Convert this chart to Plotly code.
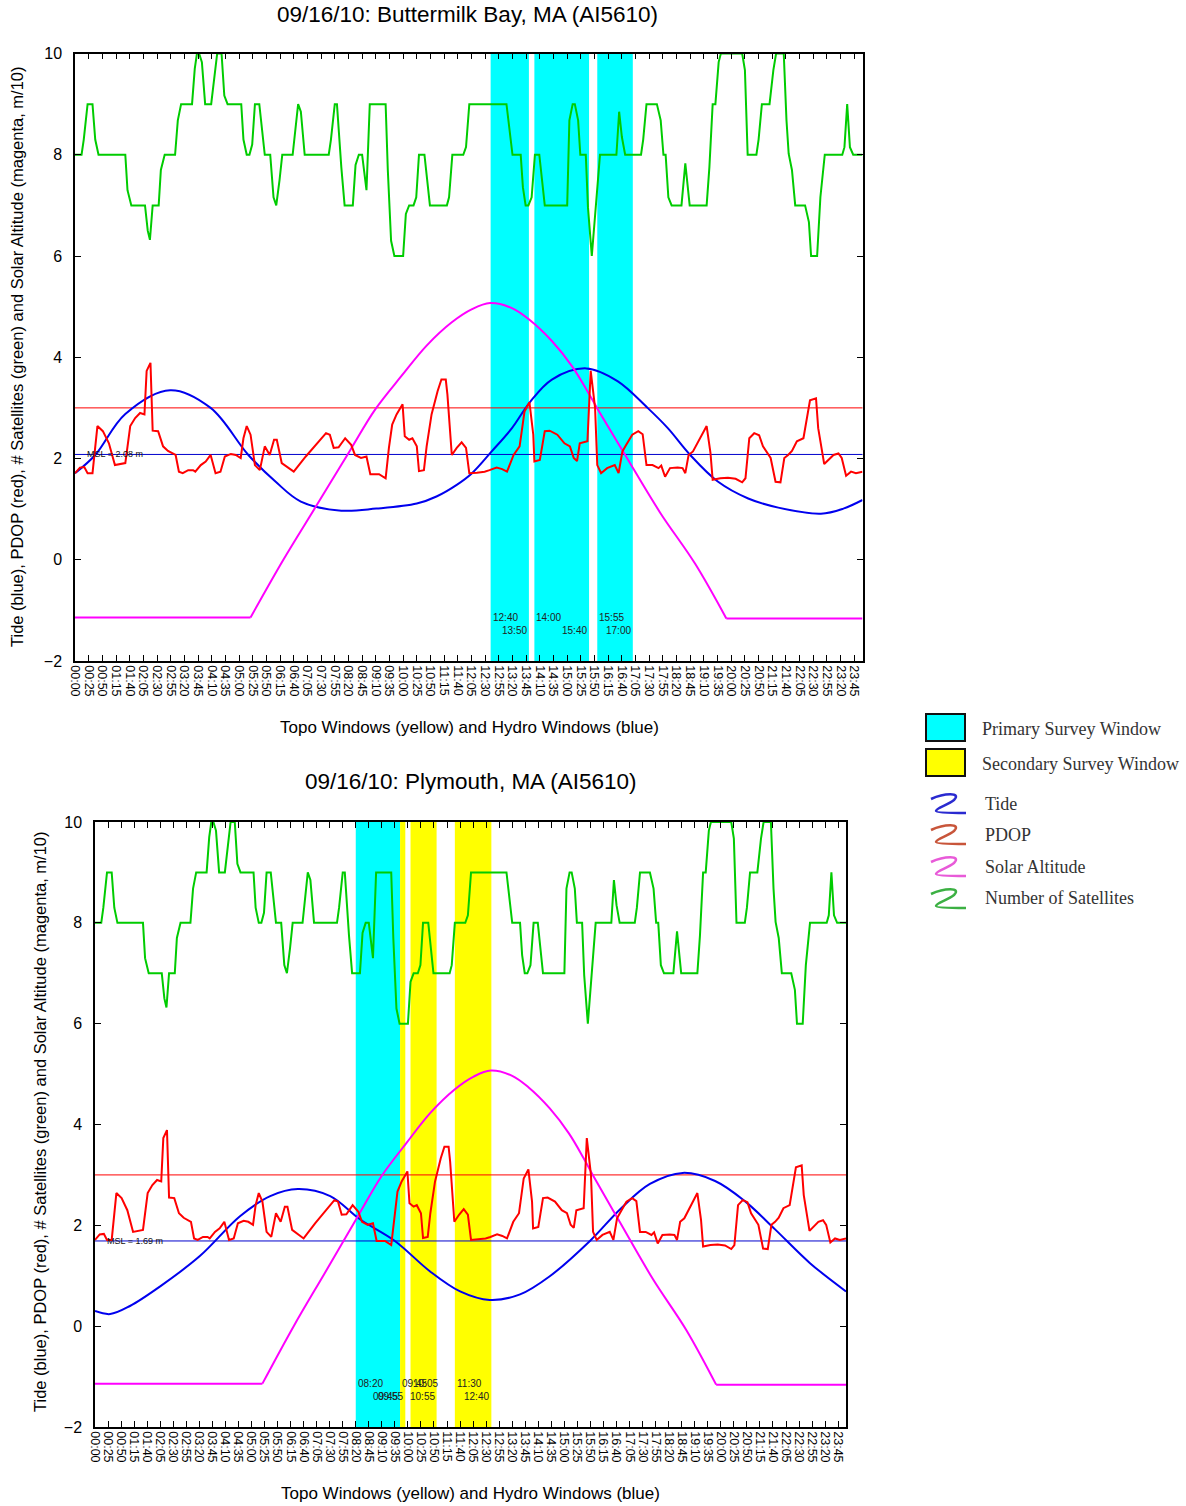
import plotly.graph_objects as go

W, H = 1186, 1506

# ---------------- data ----------------
TICK_LABELS = ["00:00", "00:25", "00:50", "01:15", "01:40", "02:05", "02:30", "02:55", "03:20", "03:45",
               "04:10", "04:35", "05:00", "05:25", "05:50", "06:15", "06:40", "07:05", "07:30", "07:55",
               "08:20", "08:45", "09:10", "09:35", "10:00", "10:25", "10:50", "11:15", "11:40", "12:05",
               "12:30", "12:55", "13:20", "13:45", "14:10", "14:35", "15:00", "15:25", "15:50", "16:15",
               "16:40", "17:05", "17:30", "17:55", "18:20", "18:45", "19:10", "19:35", "20:00", "20:25",
               "20:50", "21:15", "21:40", "22:05", "22:30", "22:55", "23:20", "23:45"]
Y_TICKS = [-2, 0, 2, 4, 6, 8, 10]

# time in minutes after midnight
sat_t = [0, 12, 16, 23, 32, 37, 43, 92, 96, 103, 128, 133, 137, 142, 153, 157, 164, 183, 188, 194,
         214, 219, 223, 227, 232, 238, 249, 255, 260, 268, 273, 279, 304, 308, 314, 319, 324, 329, 337, 347,
         357, 363, 368, 374, 379, 398, 408, 413, 420, 464, 468, 475, 479, 487, 493, 508, 513, 519, 525, 533,
         539, 568, 572, 578, 584, 600, 605, 611, 619, 624, 629, 639, 649, 680, 684, 690, 710, 715, 721, 789,
         800, 815, 819, 824, 829, 835, 841, 849, 859, 900, 904, 910, 914, 920, 924, 934, 938, 945, 951, 960,
         990, 995, 1000, 1006, 1035, 1039, 1045, 1064, 1071, 1076, 1080, 1085, 1091, 1109, 1116, 1124, 1155,
         1160, 1166, 1171, 1177, 1181, 1220, 1225, 1230, 1246, 1250, 1256, 1270, 1277, 1282, 1296, 1301, 1305,
         1311, 1317, 1335, 1342, 1346, 1357, 1363, 1371, 1403, 1407, 1412, 1417, 1423, 1440]
sat_v = [8, 8, 8.3, 9, 9, 8.3, 8, 8, 7.3, 7, 7, 6.5, 6.32, 7, 7, 7.7, 8, 8, 8.68, 9,
         9, 9.7, 10, 10, 9.83, 9, 9, 9.54, 10, 10, 9.17, 9, 9, 8.3, 8, 8, 8.2, 9, 9, 8,
         8, 7.16, 7, 7.5, 8, 8, 9, 8.85, 8, 8, 8.3, 9, 9, 7.75, 7, 7, 7.8, 8, 8, 7.3,
         9, 9, 7.7, 6.3, 6, 6, 6.83, 7, 7, 7.16, 8, 8, 7, 7, 7.16, 8, 8, 8.15, 9, 9,
         8, 8, 7.36, 7, 7, 7.16, 8, 8, 7, 7, 8.68, 9, 9, 8.68, 8, 8, 6.96, 6, 6.77, 8,
         8, 8.85, 8.35, 8, 8, 8.3, 9, 9, 8.68, 8, 8, 7.16, 7, 7, 7.83, 7, 7,
         7.75, 9, 9, 9.83, 10, 10, 9.67, 8, 8, 8.3, 9, 9, 9.67, 10, 10, 8.68, 8.02,
         7.7, 7, 7, 6.67, 6, 6, 7.16, 8, 8, 8.15, 9, 8.15, 8, 8]

pdop_t = [0, 9, 17, 23, 32, 41, 51, 62, 73, 87, 92, 101, 110, 119, 127, 131, 138, 142, 152, 161,
          170, 184, 190, 197, 207, 216, 220, 230, 239, 248, 257, 266, 274, 285, 294, 303, 308, 314, 321, 329,
          338, 347, 356, 364, 369, 378, 400, 422, 441, 459, 466, 473, 482, 494, 505, 512, 523, 533, 540, 556,
          568, 574, 580, 588, 599, 603, 611, 617, 625, 629, 638, 643, 652, 663, 670, 678, 681, 689, 698, 707,
          715, 721, 735, 749, 758, 771, 781, 790, 802, 813, 822, 831, 838, 840, 850, 859, 868, 882, 895, 905,
          912, 918, 923, 932, 937, 943, 951, 955, 962, 973, 987, 994, 1001, 1008, 1019, 1030, 1038, 1045, 1056,
          1067, 1072, 1079, 1088, 1102, 1111, 1116, 1122, 1130, 1143, 1155, 1162, 1166, 1180, 1194, 1208, 1220,
          1226, 1233, 1242, 1251, 1258, 1272, 1281, 1290, 1297, 1304, 1311, 1320, 1332, 1344, 1355, 1359, 1370,
          1378, 1387, 1396, 1402, 1410, 1419, 1428, 1440]
pdop_v = [1.71, 1.82, 1.83, 1.71, 1.71, 2.64, 2.54, 2.30, 1.87, 1.89, 1.91, 2.64, 2.80, 2.90, 2.87, 3.73, 3.89, 2.55, 2.54, 2.24,
          2.15, 2.07, 1.74, 1.71, 1.77, 1.77, 1.74, 1.87, 1.94, 2.07, 1.71, 1.74, 2.04, 2.09, 2.07, 2.01, 2.40, 2.64, 2.47, 1.87,
          1.77, 2.24, 2.07, 2.37, 2.37, 1.91, 1.74, 2.04, 2.27, 2.50, 2.47, 2.21, 2.22, 2.40, 2.27, 2.07, 2.01, 2.04, 1.69, 1.69,
          1.61, 2.21, 2.67, 2.87, 3.07, 2.44, 2.37, 2.40, 2.24, 1.75, 1.77, 2.24, 2.87, 3.33, 3.56, 3.56, 3.26, 2.07, 2.21, 2.32,
          2.21, 1.71, 1.72, 1.74, 1.77, 1.82, 1.79, 1.74, 2.07, 2.24, 2.93, 3.11, 2.47, 1.94, 1.97, 2.54, 2.55, 2.47, 2.30, 2.24,
          2.01, 1.95, 2.30, 2.32, 2.34, 3.73, 3.00, 1.87, 1.71, 1.81, 1.87, 1.71, 2.14, 2.27, 2.47, 2.54, 2.48, 1.87, 1.87,
          1.81, 1.86, 1.64, 1.81, 1.82, 1.81, 1.71, 2.07, 2.14, 2.40, 2.64, 2.11, 1.58, 1.61, 1.62, 1.60, 1.53,
          1.61, 2.40, 2.50, 2.46, 2.24, 2.01, 1.54, 1.53, 2.01, 2.07, 2.15, 2.34, 2.40, 3.15, 3.19, 2.60, 1.89,
          1.97, 2.07, 2.10, 2.01, 1.66, 1.74, 1.71, 1.74]

# solar altitude: flat night parts, then the daytime arc
solar_night1_t = [0, 321]
solar_night1_v = [-1.14, -1.14]
solar_day_t = [321, 381, 441, 503, 549, 597, 643, 689, 726, 759, 799, 831, 872, 909, 937, 955, 1006, 1070, 1134, 1191]
solar_day_v = [-1.14, 0.0, 1.06, 2.16, 2.97, 3.63, 4.23, 4.69, 4.95, 5.07, 4.97, 4.74, 4.32, 3.82, 3.33, 2.99, 2.07, 0.93, -0.08, -1.16]
solar_night2_t = [1191, 1440]
solar_night2_v = [-1.16, -1.16]

tide1_t = [0, 37, 92, 174, 248, 317, 367, 413, 487, 551, 625, 661, 698, 726, 762, 799, 831, 872, 935, 992,
           1047, 1084, 1125, 1176, 1231, 1286, 1364, 1405, 1440]
tide1_v = [1.71, 2.07, 2.88, 3.35, 3.0, 2.07, 1.54, 1.15, 0.97, 1.01, 1.11, 1.25, 1.48, 1.71, 2.14, 2.6, 3.1, 3.56, 3.78, 3.53,
           3.0, 2.6, 2.07, 1.54, 1.21, 1.03, 0.91, 1.01, 1.18]

tide2_t = [0, 29, 67, 125, 201, 278, 336, 389, 451, 508, 575, 642, 700, 757, 815, 872, 949, 1007, 1064, 1127,
           1189, 1246, 1304, 1371, 1440]
tide2_v = [0.30, 0.24, 0.40, 0.79, 1.39, 2.18, 2.58, 2.72, 2.58, 2.12, 1.69, 1.09, 0.69, 0.52, 0.63, 0.99, 1.69, 2.32, 2.82, 3.04,
           2.88, 2.48, 1.92, 1.25, 0.69]

PDOP_LIMIT = 3.0
MSL_1 = 2.08
MSL_2 = 1.69

win1_primary_start = ["12:40", "14:00", "15:55"]
win1_primary_end = ["13:50", "15:40", "17:00"]
win2_primary_start = ["08:20"]
win2_primary_end = ["09:45"]
win2_secondary_start = ["09:45", "10:05", "11:30"]
win2_secondary_end = ["09:55", "10:55", "12:40"]

TITLE_1 = "09/16/10: Buttermilk Bay, MA (AI5610)"
TITLE_2 = "09/16/10: Plymouth, MA (AI5610)"
Y_TITLE = "Tide (blue), PDOP (red), # Satellites (green) and Solar Altitude (magenta, m/10)"
X_TITLE = "Topo Windows (yellow) and Hydro Windows (blue)"

LEGEND_ITEMS = ["Tide", "PDOP", "Solar Altitude", "Number of Satellites"]
LEGEND_BOXES = ["Primary Survey Window", "Secondary Survey Window"]

# ---------------- helpers ----------------
def hm(s):
    h, m = s.split(":")
    return int(h) * 60 + int(m)

def px(x):
    return x / W

def py(y):
    return 1 - y / H

TICK_VALS = [hm(s) for s in TICK_LABELS]
FONT = "Liberation Sans, Arial, sans-serif"
SERIF = "Liberation Serif, Times New Roman, serif"

C_GREEN = "#00cc00"
C_RED = "#ff0000"
C_MAG = "#ff00ff"
C_BLUE = "#0000ee"
C_CYAN = "#00ffff"
C_YEL = "#ffff00"

fig = go.Figure()

def line_trace(xa, ya, t, v, color, shape="linear"):
    ln = dict(color=color, width=2, shape=shape)
    if shape == "spline":
        ln["smoothing"] = 1.0
    fig.add_trace(go.Scatter(x=t, y=v, mode="lines", line=ln, xaxis=xa, yaxis=ya,
                             showlegend=False, hoverinfo="skip"))

def add_series(xa, ya, tide_t, tide_v):
    line_trace(xa, ya, tide_t, tide_v, C_BLUE, "spline")
    line_trace(xa, ya, solar_night1_t, solar_night1_v, C_MAG)
    line_trace(xa, ya, solar_day_t, solar_day_v, C_MAG, "spline")
    line_trace(xa, ya, solar_night2_t, solar_night2_v, C_MAG)
    line_trace(xa, ya, pdop_t, pdop_v, C_RED)
    line_trace(xa, ya, sat_t, sat_v, C_GREEN)

add_series("x", "y", tide1_t, tide1_v)
add_series("x2", "y2", tide2_t, tide2_v)

# plot areas in pixels
P1 = dict(l=75, r=862.5, t=53.5, b=661)
P2 = dict(l=95, r=846, t=822, b=1427)

def xaxis(p, anchor):
    return dict(domain=[px(p["l"]), px(p["r"])], anchor=anchor, range=[0, 1440],
                tickmode="array", tickvals=TICK_VALS, ticktext=TICK_LABELS, tickangle=90,
                ticks="inside", ticklen=6, tickwidth=1, tickcolor="black",
                showline=True, linecolor="black", linewidth=1.5, mirror="ticks",
                showgrid=False, zeroline=False, automargin=False,
                tickfont=dict(family=FONT, size=12.5, color="black"))

def yaxis(p, anchor):
    return dict(domain=[py(p["b"]), py(p["t"])], anchor=anchor, range=[-2, 10],
                tickmode="array", tickvals=Y_TICKS, ticks="inside", ticklen=6, tickwidth=1, tickcolor="black",
                showline=True, linecolor="black", linewidth=1.5, mirror="ticks",
                showgrid=False, zeroline=False, automargin=False, ticklabelstandoff=8,
                tickfont=dict(family=FONT, size=16, color="black"))

shapes = []
annotations = []

def window(xref, yref, s, e, color):
    shapes.append(dict(type="rect", xref=xref, yref=yref + " domain", x0=hm(s), x1=hm(e), y0=0, y1=1,
                       fillcolor=color, line=dict(width=0), layer="below"))
    annotations.append(dict(xref=xref, yref=yref, x=hm(s), y=-1.14, text=s, showarrow=False,
                            xanchor="left", yanchor="middle", font=dict(family=FONT, size=10, color="#222222")))
    annotations.append(dict(xref=xref, yref=yref, x=hm(e), y=-1.40, text=e, showarrow=False,
                            xanchor="right", yanchor="middle", font=dict(family=FONT, size=10, color="#222222")))

for s, e in zip(win1_primary_start, win1_primary_end):
    window("x", "y", s, e, C_CYAN)
for s, e in zip(win2_primary_start, win2_primary_end):
    window("x2", "y2", s, e, C_CYAN)
for s, e in zip(win2_secondary_start, win2_secondary_end):
    window("x2", "y2", s, e, C_YEL)

def hlines(xref, yref, msl):
    shapes.append(dict(type="line", xref=xref + " domain", yref=yref, x0=0, x1=1, y0=PDOP_LIMIT, y1=PDOP_LIMIT,
                       line=dict(color=C_RED, width=1), layer="below"))
    shapes.append(dict(type="line", xref=xref + " domain", yref=yref, x0=0, x1=1, y0=msl, y1=msl,
                       line=dict(color="#0000cc", width=1), layer="below"))
    annotations.append(dict(xref=xref, yref=yref, x=19, y=msl, text="MSL = %.2f m" % msl, showarrow=False,
                            xanchor="left", yanchor="middle", font=dict(family=FONT, size=9, color="#111111")))

hlines("x", "y", MSL_1)
hlines("x2", "y2", MSL_2)

def ptext(x, y, text, size, family=FONT, angle=0, xanchor="center", color="black"):
    annotations.append(dict(xref="paper", yref="paper", x=px(x), y=py(y), text=text, showarrow=False,
                            xanchor=xanchor, yanchor="middle", textangle=angle,
                            font=dict(family=family, size=size, color=color)))

ptext(467, 15, TITLE_1, 22.5)
ptext(470, 781, TITLE_2, 22.5)
ptext(17, 357, Y_TITLE, 16.5, angle=-90)
ptext(40, 1122, Y_TITLE, 16.5, angle=-90)
ptext(469, 727, X_TITLE, 17)
ptext(470, 1493, X_TITLE, 17)

# ---------------- custom legend ----------------
box_colors = [C_CYAN, C_YEL]
box_tops = [714, 749]
for lab, col, top in zip(LEGEND_BOXES, box_colors, box_tops):
    shapes.append(dict(type="rect", xref="paper", yref="paper", x0=px(926), x1=px(965), y0=py(top + 27), y1=py(top),
                       fillcolor=col, line=dict(color="#111111", width=2)))
    ptext(980, top + 15, lab, 18, family=SERIF, xanchor="left", color="#333333")

sq_colors = ["#2a2ad0", "#c8553a", "#e85ad8", "#3cb043"]
sq_tops = [792, 823, 855, 887]
sq_text_y = [804, 835, 867, 898]
SQ = [("M", [(3, 7)]), ("C", [(16, 1), (34, 0), (26, 8)]), ("C", [(20, 13), (8, 16), (8, 19)]),
      ("C", [(8, 21), (30, 21), (38, 21)])]
for lab, col, top, ty in zip(LEGEND_ITEMS, sq_colors, sq_tops, sq_text_y):
    parts = []
    for cmd, pts in SQ:
        parts.append(cmd + " " + ", ".join("%.5f %.5f" % (px(928 + dx), py(top + dy)) for dx, dy in pts))
    shapes.append(dict(type="path", xref="paper", yref="paper", path=" ".join(parts),
                       line=dict(color=col, width=2.5)))
    ptext(983, ty, lab, 18, family=SERIF, xanchor="left", color="#333333")

fig.update_layout(
    width=W, height=H, margin=dict(l=0, r=0, t=0, b=0),
    paper_bgcolor="white", plot_bgcolor="white", showlegend=False,
    xaxis=xaxis(P1, "y"), yaxis=yaxis(P1, "x"),
    xaxis2=xaxis(P2, "y2"), yaxis2=yaxis(P2, "x2"),
    shapes=shapes, annotations=annotations,
)

fig.write_html("out.html", config={"displayModeBar": False},
               post_script="document.body.style.margin='0';")
